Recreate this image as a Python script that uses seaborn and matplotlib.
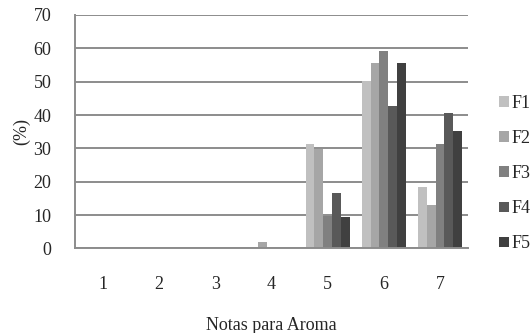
import matplotlib
matplotlib.use("Agg")
import matplotlib.pyplot as plt
import seaborn as sns
import pandas as pd
from matplotlib.patches import Patch

notas = ["1", "2", "3", "4", "5", "6", "7"]
f1 = [0, 0, 0, 0, 31.3, 50.1, 18.4]
f2 = [0, 0, 0, 1.8, 29.8, 55.6, 13.1]
f3 = [0, 0, 0, 0, 9.8, 59.2, 31.3]
f4 = [0, 0, 0, 0, 16.6, 42.7, 40.5]
f5 = [0, 0, 0, 0, 9.4, 55.6, 35.2]
series = ["F1", "F2", "F3", "F4", "F5"]
colors = ["#c0c0c0", "#a6a6a6", "#808080", "#595959", "#404040"]

rows = []
for name, vals in zip(series, [f1, f2, f3, f4, f5]):
    for n, v in zip(notas, vals):
        rows.append({"nota": n, "serie": name, "valor": v})
df = pd.DataFrame(rows)

sns.set_style("white")
plt.rcParams["font.family"] = ["Liberation Serif", "DejaVu Serif"]
fs = 13

fig = plt.figure(figsize=(5.3, 3.33), dpi=100)
ax = fig.add_axes([0.1415, 0.2538, 0.7415, 0.7012])

sns.barplot(df, x="nota", y="valor", hue="serie", hue_order=series,
            palette=colors, order=notas, width=0.78, gap=0, saturation=1,
            linewidth=0, legend=False, ax=ax)

ax.set_xlim(-0.5, 6.5)
ax.set_ylim(0, 70)
ax.set_yticks(range(0, 71, 10))
ax.yaxis.grid(True, color="#8c8c8c", linewidth=1.4)
ax.set_axisbelow(True)
for s in ["top", "right"]:
    ax.spines[s].set_visible(False)
for s in ["left", "bottom"]:
    ax.spines[s].set_color("#8c8c8c")
    ax.spines[s].set_linewidth(1.4)

ax.set_xticks(range(7))
ax.set_xticklabels(notas)
ax.set_xticks([i - 0.5 for i in range(8)], minor=True)
ax.tick_params(axis="x", which="major", length=0, pad=20, labelsize=fs)
ax.tick_params(axis="x", which="minor", length=5, width=1.4, color="#8c8c8c", direction="out")
ax.tick_params(axis="y", length=5, width=1.4, color="#8c8c8c", pad=12, labelsize=fs)

ax.set_xlabel("Notas para Aroma", labelpad=17, fontsize=fs)
ax.set_ylabel("(%)", labelpad=2, fontsize=fs)

handles = [Patch(facecolor=c, edgecolor="none") for c in colors]
fig.legend(handles, series, loc="center left", bbox_to_anchor=(0.9415, 0.478),
           frameon=False, handlelength=0.55, handleheight=0.55, handletextpad=0.17,
           labelspacing=1.0, borderaxespad=0, borderpad=0, fontsize=fs)

fig.savefig("out.png", dpi=100)
